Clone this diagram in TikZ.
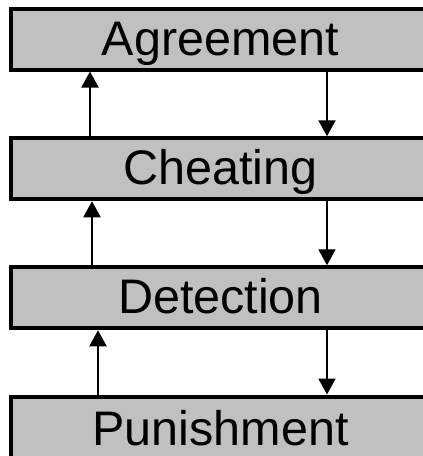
\documentclass[tikz,border=0pt]{standalone}
\usepackage{fontspec}
\setmainfont{Liberation Sans}
\usetikzlibrary{arrows.meta}
\definecolor{boxgray}{RGB}{192,192,192}
\begin{document}
\begin{tikzpicture}[x=1pt,y=-1pt,
  stagebox/.style={draw=black, line width=4pt, fill=boxgray, rectangle,
    minimum width=419pt, minimum height=61pt, inner sep=0pt,
    text height=35pt, text depth=3pt,
    font=\fontsize{48.5}{58}\selectfont},
  flow/.style={line width=2pt, -{Triangle[length=16pt,width=17pt]}}]
\useasboundingbox (0,0) rectangle (423,456);
\clip (0,0) rectangle (423,456);
\node[stagebox] (agree) at (220.5,39) {Agreement};
\node[stagebox] (cheat) at (220.5,168.75) {Cheating};
\node[stagebox] (detect) at (220.5,297.75) {Detection};
\node[stagebox, minimum height=66pt, text height=34pt] (punish) at (220.5,429.5) {Punishment};
\coordinate (ua) at (90,0);
\coordinate (ub) at (92,0);
\coordinate (uc) at (98,0);
\coordinate (dn) at (327,0);
\draw[flow] (ua |- cheat.north) -- (ua |- agree.south);
\draw[flow] (ub |- detect.north) -- (ub |- cheat.south);
\draw[flow] (uc |- punish.north) -- (uc |- detect.south);
\draw[flow] (dn |- agree.south) -- (dn |- cheat.north);
\draw[flow] (dn |- cheat.south) -- (dn |- detect.north);
\draw[flow] (dn |- detect.south) -- (dn |- punish.north);
\end{tikzpicture}
\end{document}
